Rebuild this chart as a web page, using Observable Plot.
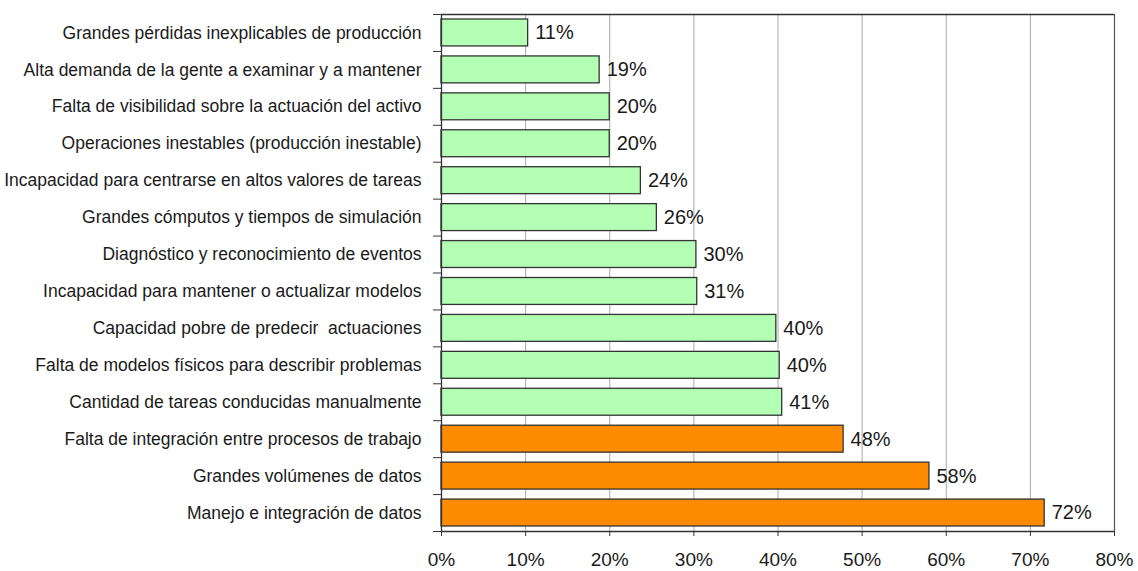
<!DOCTYPE html>
<html>
<head>
<meta charset="utf-8">
<script src="https://cdn.jsdelivr.net/npm/d3@7"></script>
<script src="https://cdn.jsdelivr.net/npm/@observablehq/plot@0.6"></script>
<style>
  html, body { margin: 0; padding: 0; background: #ffffff; }
</style>
</head>
<body>
<div id="chart"></div>
<script>
const categories = [
  "Grandes pérdidas inexplicables de producción",
  "Alta demanda de la gente a examinar y a mantener",
  "Falta de visibilidad sobre la actuación del activo",
  "Operaciones inestables (producción inestable)",
  "Incapacidad para centrarse en altos valores de tareas",
  "Grandes cómputos y tiempos de simulación",
  "Diagnóstico y reconocimiento de eventos",
  "Incapacidad para mantener o actualizar modelos",
  "Capacidad pobre de predecir  actuaciones",
  "Falta de modelos físicos para describir problemas",
  "Cantidad de tareas conducidas manualmente",
  "Falta de integración entre procesos de trabajo",
  "Grandes volúmenes de datos",
  "Manejo e integración de datos"
];
const values = [10.3, 18.8, 20.0, 20.0, 23.7, 25.6, 30.3, 30.4, 39.8, 40.2, 40.5, 47.8, 58.0, 71.7];
const valueLabels = ["11%", "19%", "20%", "20%", "24%", "26%", "30%", "31%", "40%", "40%", "41%", "48%", "58%", "72%"];
const groups = ["otro","otro","otro","otro","otro","otro","otro","otro","otro","otro","otro","principal","principal","principal"];
const groupDomain = ["otro", "principal"];
const groupColors = ["#b3ffb3", "#ff8c00"];
const xTicks = [0, 10, 20, 30, 40, 50, 60, 70, 80];
const xTickLabels = ["0%", "10%", "20%", "30%", "40%", "50%", "60%", "70%", "80%"];

const data = categories.map((c, i) => ({i, category: c, value: values[i], label: valueLabels[i], group: groups[i]}));
const rowEdges = d3.range(categories.length + 1);
const rowCenters = categories.map((c, i) => i + 0.5);

const chart = Plot.plot({
  width: 1138,
  height: 571,
  marginLeft: 441,
  marginRight: 24,
  marginTop: 14,
  marginBottom: 40,
  style: {fontFamily: "'Liberation Sans', Arial, sans-serif", background: "#ffffff", color: "#1a1a1a"},
  x: {domain: [0, 80], axis: null, label: null},
  y: {domain: [0, categories.length], reverse: true, axis: null, label: null},
  color: {domain: groupDomain, range: groupColors},
  marks: [
    Plot.ruleX(xTicks.slice(1, -1), {stroke: "#a8a8a8", strokeWidth: 1}),
    Plot.rect(data, {x1: 0, x2: "value", y1: "i", y2: d => d.i + 1, insetTop: 5, insetBottom: 5, fill: "group", stroke: "#333333", strokeWidth: 1.3}),
    Plot.text(data, {x: "value", y: d => d.i + 0.5, text: "label", dx: 7, textAnchor: "start", fontSize: 20, fill: "#1a1a1a"}),
    Plot.axisY(rowEdges, {tickSize: 8, tickFormat: () => "", stroke: "#333333", label: null}),
    Plot.axisY(rowCenters, {tickSize: 0, tickPadding: 20, fontSize: 17.5, label: null, tickFormat: v => categories[Math.floor(v)]}),
    Plot.axisX(xTicks, {tickSize: 5, tickPadding: 16, fontSize: 19, label: null, tickFormat: v => xTickLabels[xTicks.indexOf(v)], stroke: "#333333"}),
    Plot.ruleX([80], {stroke: "#555555", strokeWidth: 1.2}),
    Plot.ruleX([0], {stroke: "#333333", strokeWidth: 1.3}),
    Plot.ruleY([0], {x1: 0, x2: 80, stroke: "#333333", strokeWidth: 1.3}),
    Plot.ruleY([categories.length], {x1: 0, x2: 80, stroke: "#333333", strokeWidth: 1.3})
  ]
});
document.getElementById("chart").appendChild(chart);
</script>
</body>
</html>
